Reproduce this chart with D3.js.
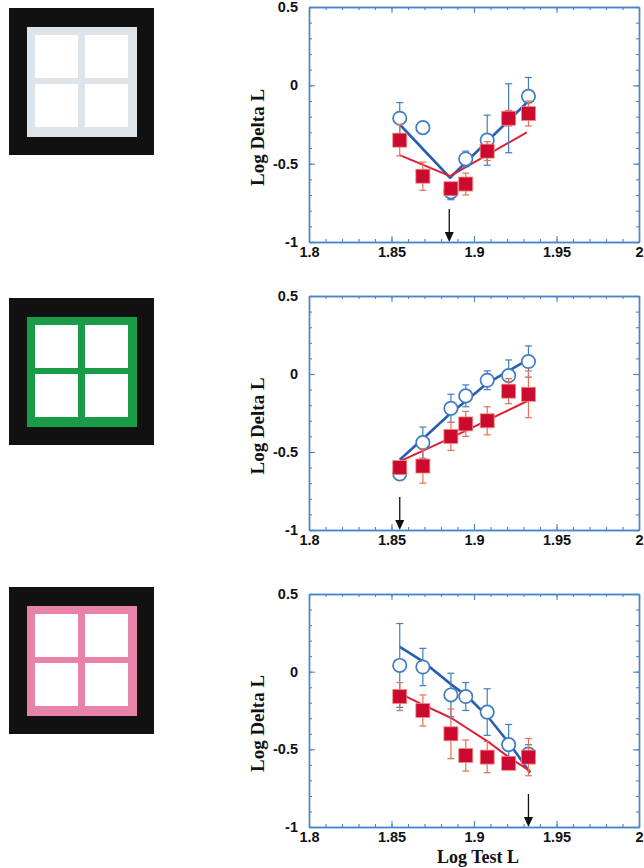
<!DOCTYPE html>
<html><head><meta charset="utf-8">
<script src="https://cdn.jsdelivr.net/npm/d3@7"></script>
<style>body{margin:0;background:#fff}svg{display:block}</style>
</head><body>
<script>
// ---- data ----
const xTest = [1.855, 1.869, 1.886, 1.895, 1.908, 1.921, 1.933];
const xTicks = [1.8, 1.85, 1.9, 1.95, 2];
const xTickLabels = ["1.8", "1.85", "1.9", "1.95", "2"];
const yTicks = [-1, -0.5, 0, 0.5];
const yTickLabels = ["-1", "-0.5", "0", "0.5"];
const frameColors = ["#dde5ea", "#1a9b47", "#e783a8"];

const p1Blue = [-0.21, -0.27, -0.68, -0.47, -0.35, -0.21, -0.07];
const p1BlueErr = [0.10, 0.03, 0.05, 0.05, 0.16, 0.22, 0.12];
const p1Red = [-0.35, -0.58, -0.66, -0.63, -0.42, -0.21, -0.18];
const p1RedErr = [0.10, 0.09, 0.04, 0.07, 0.06, 0.05, 0.08];
const p1BlueFitX = [1.855, 1.8855, 1.934];
const p1BlueFitY = [-0.25, -0.59, -0.09];
const p1RedFitX = [1.855, 1.8855, 1.932];
const p1RedFitY = [-0.445, -0.58, -0.30];
const p1Arrow = 1.885;

const p2Blue = [-0.64, -0.44, -0.22, -0.14, -0.04, -0.01, 0.08];
const p2BlueErr = [0.03, 0.10, 0.09, 0.07, 0.06, 0.10, 0.10];
const p2Red = [-0.60, -0.59, -0.40, -0.32, -0.30, -0.11, -0.13];
const p2RedErr = [0.04, 0.11, 0.09, 0.08, 0.09, 0.08, 0.15];
const p2BlueFitX = [1.855, 1.8686, 1.886, 1.8955, 1.908, 1.934];
const p2BlueFitY = [-0.55, -0.42, -0.25, -0.17, -0.06, 0.10];
const p2RedFitX = [1.855, 1.886, 1.933];
const p2RedFitY = [-0.56, -0.41, -0.17];
const p2Arrow = 1.855;

const p3Blue = [0.04, 0.03, -0.15, -0.16, -0.26, -0.47, -0.53];
const p3BlueErr = [0.27, 0.12, 0.14, 0.09, 0.15, 0.13, 0.06];
const p3Red = [-0.16, -0.25, -0.40, -0.54, -0.55, -0.59, -0.55];
const p3RedErr = [0.09, 0.10, 0.16, 0.10, 0.10, 0.03, 0.12];
const p3BlueFitX = [1.855, 1.8685, 1.8865, 1.896, 1.9084, 1.922, 1.934];
const p3BlueFitY = [0.16, 0.07, -0.085, -0.16, -0.29, -0.47, -0.65];
const p3RedFitX = [1.855, 1.8685, 1.8865, 1.9084, 1.921, 1.934];
const p3RedFitY = [-0.14, -0.21, -0.30, -0.45, -0.55, -0.64];
const p3Arrow = 1.933;

// ---- layout ----
const W = 644, H = 868;
const AXIS = "#4a86c8", BLUE = "#2a5fb0", BLUE_ERR = "#3f7cc6", RED = "#cc0a30", RED_ERR = "#ec6e55", RED_LINE = "#dd2034";
const panels = [
  {top: 7, bottom: 242, thumbTop: 8, blue: p1Blue, be: p1BlueErr, red: p1Red, re: p1RedErr,
   bfx: p1BlueFitX, bfy: p1BlueFitY, rfx: p1RedFitX, rfy: p1RedFitY, arrow: p1Arrow},
  {top: 296, bottom: 530, thumbTop: 298, blue: p2Blue, be: p2BlueErr, red: p2Red, re: p2RedErr,
   bfx: p2BlueFitX, bfy: p2BlueFitY, rfx: p2RedFitX, rfy: p2RedFitY, arrow: p2Arrow},
  {top: 594, bottom: 827, thumbTop: 587, blue: p3Blue, be: p3BlueErr, red: p3Red, re: p3RedErr,
   bfx: p3BlueFitX, bfy: p3BlueFitY, rfx: p3RedFitX, rfy: p3RedFitY, arrow: p3Arrow, xlabel: true}
];
const left = 309, right = 639;

const svg = d3.select("body").append("svg").attr("width", W).attr("height", H);

panels.forEach((p, i) => {
  // thumbnail illustration
  const t = svg.append("g").attr("transform", `translate(9,${p.thumbTop})`);
  t.append("rect").attr("width", 145).attr("height", 147).attr("fill", "#111");
  t.append("rect").attr("x", 18).attr("y", 19).attr("width", 110).attr("height", 110).attr("fill", frameColors[i]);
  [[26, 27], [76, 27], [26, 76], [76, 76]].forEach(([px, py]) =>
    t.append("rect").attr("x", px).attr("y", py).attr("width", 43).attr("height", 43).attr("fill", "#fff"));

  const x = d3.scaleLinear().domain([1.8, 2]).range([left, right]);
  const y = d3.scaleLinear().domain([-1, 0.5]).range([p.bottom, p.top]);
  const g = svg.append("g");

  // fit lines
  const line = d3.line().x(d => x(d[0])).y(d => y(d[1]));
  g.append("path").datum(d3.zip(p.bfx, p.bfy)).attr("d", line)
    .attr("fill", "none").attr("stroke", BLUE).attr("stroke-width", 2.6).attr("stroke-linejoin", "round");
  g.append("path").datum(d3.zip(p.rfx, p.rfy)).attr("d", line)
    .attr("fill", "none").attr("stroke", RED_LINE).attr("stroke-width", 2).attr("stroke-linejoin", "round");

  // error bars
  function errBars(vals, errs, color) {
    vals.forEach((v, k) => {
      const cx = x(xTest[k]), y1 = y(v + errs[k]), y2 = y(v - errs[k]);
      g.append("line").attr("x1", cx).attr("x2", cx).attr("y1", y1).attr("y2", y2)
        .attr("stroke", color).attr("stroke-width", 1.2);
      [y1, y2].forEach(yy => g.append("line").attr("x1", cx - 3.5).attr("x2", cx + 3.5)
        .attr("y1", yy).attr("y2", yy).attr("stroke", color).attr("stroke-width", 1.2));
    });
  }
  errBars(p.blue, p.be, BLUE_ERR);
  g.selectAll(null).data(p.blue).enter().append("circle")
    .attr("cx", (d, k) => x(xTest[k])).attr("cy", d => y(d)).attr("r", 6.7)
    .attr("fill", "#fff").attr("stroke", BLUE_ERR).attr("stroke-width", 1.7);
  errBars(p.red, p.re, RED_ERR);
  g.selectAll(null).data(p.red).enter().append("rect")
    .attr("x", (d, k) => x(xTest[k]) - 7).attr("y", d => y(d) - 7)
    .attr("width", 14).attr("height", 14)
    .attr("fill", RED).attr("stroke", "#f08a80").attr("stroke-width", 0.8);

  // arrow
  const ax = x(p.arrow);
  g.append("line").attr("x1", ax).attr("x2", ax).attr("y1", p.bottom - 33).attr("y2", p.bottom - 8)
    .attr("stroke", "#111").attr("stroke-width", 1.3);
  g.append("path").attr("d", `M${ax - 4.5},${p.bottom - 10}L${ax + 4.5},${p.bottom - 10}L${ax},${p.bottom}Z`).attr("fill", "#111");

  // axes frame with inward ticks on all sides
  const ax1 = svg.append("g").attr("color", AXIS);
  const minorX = d3.range(1.8, 2.0001, 0.01).map(v => +v.toFixed(2));
  const minorY = d3.range(-1, 0.5001, 0.1).map(v => +v.toFixed(1));
  const bottomAx = d3.axisBottom(x).tickValues(xTicks).tickFormat((d, k) => xTickLabels[k]).tickSizeInner(-6).tickSizeOuter(0).tickPadding(5);
  const gb = ax1.append("g").attr("transform", `translate(0,${p.bottom})`).call(bottomAx);
  ax1.append("g").attr("transform", `translate(0,${p.bottom})`)
    .call(d3.axisBottom(x).tickValues(minorX).tickSizeInner(-3).tickSizeOuter(0).tickFormat(""));
  ax1.append("g").attr("transform", `translate(0,${p.top})`)
    .call(d3.axisTop(x).tickValues(xTicks).tickSizeInner(-6).tickSizeOuter(0).tickFormat(""));
  ax1.append("g").attr("transform", `translate(0,${p.top})`)
    .call(d3.axisTop(x).tickValues(minorX).tickSizeInner(-3).tickSizeOuter(0).tickFormat(""));
  const gl = ax1.append("g").attr("transform", `translate(${left},0)`)
    .call(d3.axisLeft(y).tickValues(yTicks).tickFormat((d, k) => yTickLabels[k]).tickSizeInner(-6).tickSizeOuter(0).tickPadding(11));
  ax1.append("g").attr("transform", `translate(${left},0)`)
    .call(d3.axisLeft(y).tickValues(minorY).tickSizeInner(-3).tickSizeOuter(0).tickFormat(""));
  ax1.append("g").attr("transform", `translate(${right},0)`)
    .call(d3.axisRight(y).tickValues(yTicks).tickSizeInner(-6).tickSizeOuter(0).tickFormat(""));
  ax1.append("g").attr("transform", `translate(${right},0)`)
    .call(d3.axisRight(y).tickValues(minorY).tickSizeInner(-3).tickSizeOuter(0).tickFormat(""));
  ax1.selectAll("path.domain").attr("stroke-width", 1.4);
  ax1.selectAll(".tick line").attr("stroke-width", 1.1);
  [gb, gl].forEach(gg => gg.selectAll("text")
    .attr("fill", "#111").attr("font-family", "Liberation Sans, Arial, sans-serif")
    .attr("font-weight", "bold").attr("font-size", 14.5));

  // y label
  svg.append("text").attr("transform", `translate(264,${(p.top + p.bottom) / 2 + 13}) rotate(-90)`)
    .attr("text-anchor", "middle").attr("font-family", "Liberation Serif, Times New Roman, serif")
    .attr("font-weight", "bold").attr("font-size", 19).attr("fill", "#111").text("Log Delta L");
  if (p.xlabel) {
    svg.append("text").attr("x", (left + right) / 2 + 4).attr("y", 863)
      .attr("text-anchor", "middle").attr("font-family", "Liberation Serif, Times New Roman, serif")
      .attr("font-weight", "bold").attr("font-size", 18).attr("fill", "#111").text("Log Test L");
  }
});
</script>
</body></html>
